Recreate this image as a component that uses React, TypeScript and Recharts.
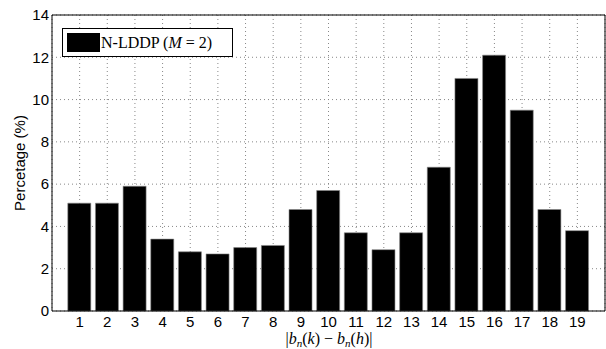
import React from 'react';
import { BarChart, Bar, XAxis, YAxis, CartesianGrid, Legend } from 'recharts';

const categories = [1, 2, 3, 4, 5, 6, 7, 8, 9, 10, 11, 12, 13, 14, 15, 16, 17, 18, 19];
const percentages = [5.1, 5.1, 5.9, 3.4, 2.8, 2.7, 3.0, 3.1, 4.8, 5.7, 3.7, 2.9, 3.7, 6.8, 11.0, 12.1, 9.5, 4.8, 3.8];
const yTicks = [0, 2, 4, 6, 8, 10, 12, 14];
const yLabel = 'Percetage (%)';
const seriesName = 'N-LDDP';

const data = categories.map((k, i) => ({ k, v: percentages[i] }));

const pad = { left: 13.8, right: 13.8 };
const sans = '"Liberation Sans", Arial, sans-serif';
const serif = '"Liberation Serif", "Times New Roman", serif';

const LegendBox = () => (
  <div
    style={{
      width: 171,
      height: 29,
      boxSizing: 'border-box',
      border: '1px solid #000',
      background: '#fff',
      display: 'flex',
      alignItems: 'center',
      fontFamily: serif,
      fontSize: 16,
      color: '#000',
      whiteSpace: 'nowrap',
    }}
  >
    <div style={{ width: 33, height: 19, background: '#000', marginLeft: 4, marginRight: 1 }} />
    <span>
      {seriesName} (<i>M</i>&nbsp;=&nbsp;2)
    </span>
  </div>
);

const XLabel = () => (
  <text x={329} y={344} textAnchor="middle" fontFamily={serif} fontSize={16} fill="#000">
    |<tspan fontStyle="italic">b</tspan>
    <tspan fontStyle="italic" fontSize={11} dy={3}>n</tspan>
    <tspan dy={-3}>(</tspan>
    <tspan fontStyle="italic">k</tspan>
    <tspan>)</tspan>
    <tspan dx={4}>−</tspan>
    <tspan dx={4} fontStyle="italic">b</tspan>
    <tspan fontStyle="italic" fontSize={11} dy={3}>n</tspan>
    <tspan dy={-3}>(</tspan>
    <tspan fontStyle="italic">h</tspan>
    <tspan>)|</tspan>
  </text>
);

const YLabel = () => (
  <text
    x={19}
    y={163}
    textAnchor="middle"
    dominantBaseline="central"
    transform="rotate(-90, 19, 163)"
    fontFamily={sans}
    fontSize={15}
    fill="#000"
  >
    {yLabel}
  </text>
);

export default function App() {
  return (
    <div style={{ position: 'absolute', left: 0, top: 0, width: 606, height: 349, background: '#fff' }}>
      <BarChart
        width={606}
        height={349}
        data={data}
        margin={{ top: 15, right: 1, bottom: 0, left: 8 }}
        barCategoryGap={0}
      >
        <CartesianGrid stroke="#888" strokeDasharray="1 3" />
        <XAxis
          dataKey="k"
          interval={0}
          padding={pad}
          height={38}
          tickLine={false}
          tickSize={0}
          tickMargin={5}
          stroke="#000"
          tick={{ fill: '#000', fontFamily: sans, fontSize: 15 }}
          label={{ content: () => <XLabel /> }}
        />
        <XAxis xAxisId="top" dataKey="k" orientation="top" mirror interval={0} padding={pad} tick={false} tickSize={5} stroke="#000" />
        <XAxis xAxisId="bm" dataKey="k" orientation="bottom" mirror interval={0} padding={pad} tick={false} tickSize={5} axisLine={false} stroke="#000" />
        <YAxis
          domain={[0, 14]}
          ticks={yTicks}
          interval={0}
          width={44}
          tickLine={false}
          tickSize={0}
          tickMargin={3}
          stroke="#000"
          tick={{ fill: '#000', fontFamily: sans, fontSize: 15 }}
          label={{ content: () => <YLabel /> }}
        />
        <YAxis yAxisId="r" orientation="right" mirror domain={[0, 14]} ticks={yTicks} interval={0} tick={false} tickSize={5} stroke="#000" />
        <YAxis yAxisId="lm" orientation="left" mirror domain={[0, 14]} ticks={yTicks} interval={0} tick={false} tickSize={5} axisLine={false} stroke="#000" />
        <Legend
          layout="horizontal"
          verticalAlign="middle"
          align="center"
          content={() => <LegendBox />}
          wrapperStyle={{ position: 'absolute', left: 62, top: 28, width: 171, height: 29 }}
        />
        <Bar dataKey="v" name={seriesName} fill="#000" stroke="#888" strokeWidth={0.6} barSize={23} isAnimationActive={false} />
      </BarChart>
    </div>
  );
}
